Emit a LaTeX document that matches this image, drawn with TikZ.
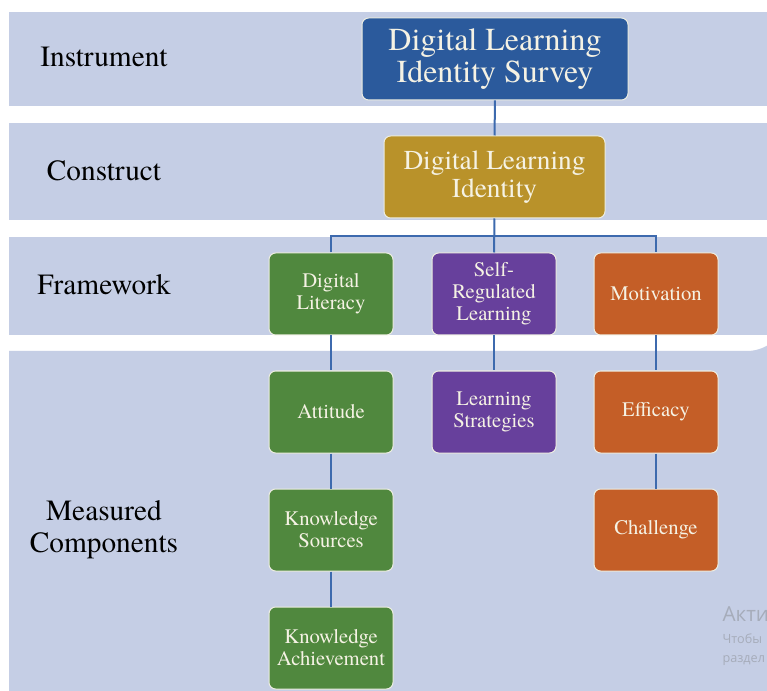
\documentclass[tikz,border=0pt]{standalone}
\usepackage{fontspec}
\setmainfont{TeX Gyre Termes}
\newfontfamily\wmfont{Open Sans}

\definecolor{bandcol}{RGB}{197,206,229}
\definecolor{linecol}{RGB}{61,106,174}
\definecolor{surveycol}{RGB}{43,90,156}
\definecolor{identcol}{RGB}{185,146,42}
\definecolor{greencol}{RGB}{80,136,62}
\definecolor{purplecol}{RGB}{103,64,156}
\definecolor{orangecol}{RGB}{196,94,39}
\definecolor{boxtext}{RGB}{245,242,228}
\definecolor{wmcol}{RGB}{166,172,186}

\tikzset{every picture/.style={line width=0.75pt}}
\tikzset{
  box/.style={draw={rgb,255:red,238;green,238;blue,226}, line width=0.75pt, rounded corners=5pt,
    text=boxtext, align=center, inner sep=2pt,
    minimum width=93pt, minimum height=61.5pt,
    font=\fontsize{15.5}{16.5}\selectfont},
  rowlabel/.style={align=center, inner sep=0.75pt, font=\fontsize{22}{24}\selectfont},
  link/.style={draw=linecol, line width=1.5pt},
  wmark/.style={anchor=base west, inner sep=0pt, text=wmcol}
}

\begin{document}
\begin{tikzpicture}[x=0.75pt,y=0.75pt,yscale=-1,xscale=1]
\useasboundingbox (0,0) rectangle (767,691);
\clip (0,0) rectangle (767,691);
\fill [white] (0,0) rectangle (767,691);

%Shape: Band [id:instrument]
\fill [bandcol] (9,12) rectangle (800,106) ;
%Shape: Band [id:construct]
\fill [bandcol] (9,123) rectangle (800,220) ;
%Shape: Band [id:framework]
\fill [bandcol] (9,237) rectangle (800,335) ;
%Shape: Band [id:components]
\fill [bandcol] (9,720) -- (9,351) -- (747,351) arc [start angle=90, end angle=0, radius=30pt] -- (787,720) -- cycle ;

% Text Node
\node [rowlabel] (lblinst) at (104,57) {Instrument};
% Text Node
\node [rowlabel] (lblcons) at (104,171) {Construct};
% Text Node
\node [rowlabel] (lblfram) at (104,285) {Framework};
% Text Node
\node [rowlabel] (lblmeas) at (104,530) {Measured\\Components};

% Boxes
\node [box, fill=surveycol, minimum width=199.5pt, font=\fontsize{24}{24}\selectfont] (survey) at (495,59) {Digital Learning\\Identity Survey};
\node [box, fill=identcol, minimum width=165.75pt, font=\fontsize{20.5}{21}\selectfont] (ident) at (494.5,177) {Digital Learning\\Identity};

\node [box, fill=greencol] (lit) at (331,294) {Digital\\Literacy};
\node [box, fill=purplecol] (srl) at (494,294) {Self-\\Regulated\\Learning};
\node [box, fill=orangecol] (mot) at (656,294) {Motivation};

\node [box, fill=greencol] (att) at (331,412) {Attitude};
\node [box, fill=purplecol] (ls) at (494,412) {Learning\\Strategies};
\node [box, fill=orangecol] (eff) at (656,412) {Efficacy};

\node [box, fill=greencol] (ks) at (331,530) {Knowledge\\Sources};
\node [box, fill=orangecol] (chal) at (656,530) {Challenge};

\node [box, fill=greencol] (ka) at (331,648) {Knowledge\\Achievement};

%Straight Lines
\draw [link] (survey) -- (ident) ;
\draw [link] (ident) -- (srl) ;
\draw [link] (lit.north) -- ++(0,-16) -| (mot.north) ;
\draw [link] (lit) -- (att) ;
\draw [link] (att) -- (ks) ;
\draw [link] (ks) -- (ka) ;
\draw [link] (srl) -- (ls) ;
\draw [link] (mot) -- (eff) ;
\draw [link] (eff) -- (chal) ;

% Text Node
\node [wmark, font=\wmfont\fontsize{15.5}{18}\selectfont] (wm1) at (722,621) {Активация};
\node [wmark, font=\wmfont\fontsize{9.5}{12}\selectfont] (wm2) at (722,643) {Чтобы};
\node [wmark, font=\wmfont\fontsize{9.5}{12}\selectfont] (wm3) at (722,662) {раздел};

\end{tikzpicture}
\end{document}
